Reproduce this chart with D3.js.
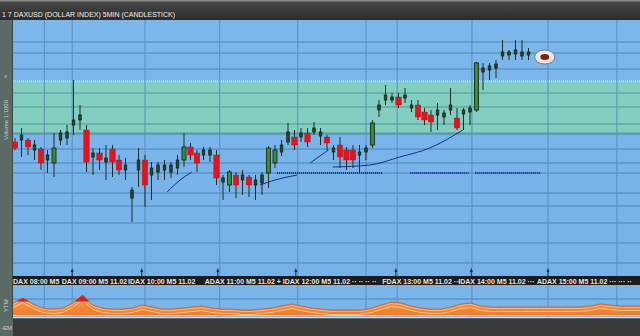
<!DOCTYPE html>
<html><head><meta charset="utf-8">
<script src="https://cdn.jsdelivr.net/npm/d3@7/dist/d3.min.js"></script>
<style>html,body{margin:0;padding:0;background:#2e2e2e;overflow:hidden}svg{display:block}</style>
</head><body><svg id="c" width="640" height="336"></svg>
<script>
// ---- data ----
const opens  = [158,160,160,150,151,140,137,160,162,175,180,170,143,147,138,151,140,130,102,130,140,125,128,130,128,132,140,153,147,145,145,145,118,115,125,120,123,115,117,127,137,148,158,163,163,167,168,164,163,148,155,150,150,145,148,155,190,200,200,203,202,192,195,188,185,185,183,190,182,186,188,190,228,230,232,244,245,246,244,245];
const highs  = [162,172,162,160,153,150,167,170,175,220,195,175,152,152,155,155,145,142,113,152,145,138,138,140,138,145,167,157,150,153,153,150,125,130,128,130,125,125,128,154,155,160,177,170,172,172,178,172,165,155,163,153,155,155,155,180,200,215,207,207,212,200,200,192,190,197,190,212,192,192,195,238,237,237,240,260,250,260,260,252];
const lows   = [150,143,145,140,130,127,123,155,155,165,170,128,125,130,120,123,125,120,78,113,93,100,120,120,122,125,133,140,128,140,138,115,100,108,102,105,103,100,105,112,132,144,155,150,158,153,165,155,150,140,132,130,132,128,140,152,183,195,197,192,197,188,180,175,168,170,175,185,170,170,175,188,210,220,222,240,240,240,240,240];
const closes = [152,165,153,155,137,145,152,167,168,180,185,138,147,140,142,138,130,135,110,140,115,132,135,135,135,140,153,145,137,150,150,122,122,128,115,125,115,120,125,152,150,155,168,155,167,158,172,168,157,152,143,140,140,148,152,177,195,205,203,195,205,195,183,180,178,190,187,195,172,190,192,237,232,234,236,248,248,250,248,248];

const gridLevels = [258,247,231,207,193,176,166,151,137,127,107,94,77,57,37];
const dottedLevel = 219;
const bandLevels = [167,219];
const gridTimes = [4.5,8.8,20,31.5,43.5,54,58.8,70.3,82,92.6];
const tickTimes = [8.8,19.5,31.2,43.2,58.6,70.2,82];
const labelTimes = [-0.3,7.2,17.4,29.2,41.2,56.5,68.2,80.3];
const labelTexts = ["DAX 08:00 M5","DAX 09:00 M5 11.02","IDAX 10:00 M5 11.02","ADAX 11:00 M5 11.02 +","IDAX 12:00 M5 11.02 \u00b7\u00b7 \u00b7\u00b7 \u00b7\u00b7 \u00b7\u00b7","FDAX 13:00 M5 11.02 \u00b7\u00b7\u00b7","IDAX 14:00 M5 11.02 \u00b7\u00b7\u00b7","ADAX 15:00 M5 11.02 \u00b7\u00b7\u00b7 \u00b7\u00b7\u00b7 \u00b7\u00b7"];
const maShort1 = [[23.4,108],[25.4,120],[27.2,128]];
const maShort2 = [[37.7,115],[40,120],[43.4,125]];
const maShort3 = [[45.4,137],[48.2,150]];
const maLong   = [[48.9,133],[54.6,135],[59.2,143],[63.8,152],[68.9,170]];
const dotted1  = [[40.3,127],[56.5,127]];
const dotted2a = [[60.8,127],[69.8,127]];
const dotted2b = [[70.8,127],[80.8,127]];
const marker   = [81.5,243];
const oscValues = [13,18,12,8,7,8,13,21,11,8,7,7,8,11,9,7,7,8,9,10,8,7,7,6,6,7,8,10,12,10,8,7,6,6,6,6,8,11,14,13,10,8,7,7,9,12,13,10,9,9,9,9,9,9,9,9,9,9,10,12,11,10,10,10];
const titleText = "1  7 DAXUSD (DOLLAR INDEX) 5MIN (CANDLESTICK)";

// ---- layout ----
const svg = d3.select("#c");
const W = 640, H = 336;
const L = 13, T = 20, B = 276;
const x = d3.scaleLinear().domain([0, 79]).range([15, 528.5]);
const y = d3.scaleLinear().domain([25, 280]).range([275, 20]);
const oy = d3.scaleLinear().domain([0, 25]).range([316, 291]);
const ox = d3.scaleLinear().domain([0, oscValues.length - 1]).range([L, W]);

const defs = svg.append("defs");
const hg = defs.append("linearGradient").attr("id","hdr").attr("x1",0).attr("x2",0).attr("y1",0).attr("y2",1);
hg.append("stop").attr("offset",0).attr("stop-color","#4a4a4a");
hg.append("stop").attr("offset",1).attr("stop-color","#2b2b2b");
const bg = defs.append("linearGradient").attr("id","blue").attr("x1",0).attr("x2",0).attr("y1",0).attr("y2",1);
bg.append("stop").attr("offset",0).attr("stop-color","#7cb7ec");
bg.append("stop").attr("offset",1).attr("stop-color","#76b1e8");
const og = defs.append("linearGradient").attr("id","osc").attr("x1",0).attr("x2",0).attr("y1",0).attr("y2",1);
og.append("stop").attr("offset",0).attr("stop-color","#f7a050");
og.append("stop").attr("offset",1).attr("stop-color","#f07a2a");
defs.append("clipPath").attr("id","peak").append("rect").attr("x",0).attr("y",0).attr("width",W).attr("height",oy(14.5));

// background
svg.append("rect").attr("width",W).attr("height",H).attr("fill","#323232");
svg.append("rect").attr("width",W).attr("height",T).attr("fill","url(#hdr)");
svg.append("rect").attr("width",W).attr("height",1.5).attr("fill","#8a8a8a");
// left panel
svg.append("rect").attr("x",0).attr("y",T).attr("width",L).attr("height",H-T).attr("fill","#5b6a64");
svg.append("line").attr("x1",12.5).attr("x2",12.5).attr("y1",T).attr("y2",318).attr("stroke","#3a4540");
// main plot
svg.append("rect").attr("x",L).attr("y",T).attr("width",W-L).attr("height",B-T).attr("fill","url(#blue)");
svg.append("rect").attr("x",L).attr("y",y(bandLevels[1])).attr("width",W-L).attr("height",y(bandLevels[0])-y(bandLevels[1])).attr("fill","#82cec0");
// lower panel
svg.append("rect").attr("x",L).attr("y",285).attr("width",W-L).attr("height",32).attr("fill","#7ab5ea");
svg.append("rect").attr("x",L).attr("y",317).attr("width",W-L).attr("height",1.5).attr("fill","#d8dde2");
svg.append("rect").attr("x",L).attr("y",318.5).attr("width",W-L).attr("height",H-318.5).attr("fill","#3a3a3a");

// horizontal gridlines
svg.append("g").selectAll("line").data(gridLevels).join("line")
  .attr("x1",L).attr("x2",W).attr("y1",d=>y(d)).attr("y2",d=>y(d))
  .attr("stroke",d=>(d>bandLevels[0]&&d<bandLevels[1])?"#4e9a92":"#4f84ba").attr("stroke-width",1);
svg.append("line").attr("x1",L).attr("x2",W).attr("y1",y(dottedLevel)).attr("y2",y(dottedLevel))
  .attr("stroke","#c8e2f2").attr("stroke-width",1.5).attr("stroke-dasharray","1,1");
svg.append("line").attr("x1",L).attr("x2",W).attr("y1",y(bandLevels[0])).attr("y2",y(bandLevels[0])).attr("stroke","#4e9a92");
svg.append("line").attr("x1",L).attr("x2",W).attr("y1",299).attr("y2",299).attr("stroke","#4f84ba");
// vertical gridlines
svg.append("g").selectAll("line").data(gridTimes).join("line")
  .attr("x1",d=>x(d)).attr("x2",d=>x(d)).attr("y1",T).attr("y2",B)
  .attr("stroke","#5a8ebf").attr("stroke-width",1);
svg.append("g").selectAll("line").data(gridTimes).join("line")
  .attr("x1",d=>x(d)).attr("x2",d=>x(d)).attr("y1",285).attr("y2",317)
  .attr("stroke","#5a8ebf").attr("stroke-width",1);

// axis band
svg.append("rect").attr("x",L).attr("y",276).attr("width",W-L).attr("height",9).attr("fill","#1c1c1a");
svg.append("g").selectAll("path").data(tickTimes).join("path")
  .attr("d",d=>`M${x(d)-1.5},${272}L${x(d)+1.5},${272}L${x(d)},${268}Z`).attr("fill","#1a2a3a");
svg.append("g").selectAll("line").data(tickTimes).join("line")
  .attr("x1",d=>x(d)).attr("x2",d=>x(d)).attr("y1",272).attr("y2",276).attr("stroke","#1a2a3a");
svg.append("g").selectAll("text").data(labelTimes).join("text")
  .attr("x",d=>x(d)).attr("y",283.5).text((d,i)=>labelTexts[i])
  .attr("font-family","Liberation Sans, Arial").attr("font-size",7).attr("font-weight","bold")
  .attr("fill","#e8e8e0");

// oscillator
const area = d3.area().x((d,i)=>ox(i)).y0(315).y1(d=>oy(d));
const line = d3.line().x((d,i)=>ox(i)).y(d=>oy(d));
svg.append("path").attr("d",area(oscValues)).attr("fill","url(#osc)");
[[0,"#e4561c"],[-1.5,"#fbc27c"],[-3,"#f28a3a"],[-4.5,"#fcd090"]].forEach(([off,col])=>{
  svg.append("path").attr("d",line(oscValues.map(v=>Math.max(1.5,v+off))))
    .attr("fill","none").attr("stroke",col).attr("stroke-width",0.9);
});
svg.append("path").attr("d",area(oscValues)).attr("fill","#d8201a").attr("clip-path","url(#peak)");
svg.append("line").attr("x1",L).attr("x2",W).attr("y1",315.5).attr("y2",315.5).attr("stroke","#c0d8ec").attr("stroke-width",1);

// moving averages
const ma = d3.line().x(d=>x(d[0])).y(d=>y(d[1])).curve(d3.curveMonotoneX);
[maShort1,maShort2,maShort3,maLong].forEach(s=>{
  svg.append("path").attr("d",ma(s)).attr("fill","none").attr("stroke","#1c2a8a").attr("stroke-width",1);
});
[dotted1,dotted2a,dotted2b].forEach(s=>{
  svg.append("path").attr("d",ma(s)).attr("fill","none").attr("stroke","#2430a0").attr("stroke-width",2).attr("stroke-dasharray","1.2,0.8");
});

// candles
const candles = opens.map((o,i)=>({i,o,h:highs[i],l:lows[i],c:closes[i]}));
const bw = d=>d.c<d.o?5.5:(d.c-d.o>12?4:2.5);
const g = svg.append("g");
g.selectAll("line").data(candles).join("line")
  .attr("x1",d=>x(d.i)).attr("x2",d=>x(d.i)).attr("y1",d=>y(d.h)).attr("y2",d=>y(d.l))
  .attr("stroke","#1e2e22").attr("stroke-width",1);
g.selectAll("rect").data(candles).join("rect")
  .attr("x",d=>x(d.i)-bw(d)/2).attr("width",bw)
  .attr("y",d=>y(Math.max(d.o,d.c)))
  .attr("height",d=>Math.max(1.5,Math.abs(y(d.o)-y(d.c))))
  .attr("fill",d=>d.c<d.o?"#e3141c":(d.c-d.o>12?"#3e8a3a":"#2a4a2c"))
  .attr("stroke",d=>d.c<d.o?"#b01018":"#0f1f10").attr("stroke-width",d=>d.c<d.o?0.4:0.8);

// marker
svg.append("ellipse").attr("cx",x(marker[0])).attr("cy",y(marker[1])).attr("rx",10).attr("ry",7)
  .attr("fill","#f0ebe6").attr("stroke","#6a6a6a").attr("stroke-width",0.8);
svg.append("ellipse").attr("cx",x(marker[0])).attr("cy",y(marker[1])).attr("rx",4.5).attr("ry",3)
  .attr("fill","#8a1a12");

// header title
svg.append("text").attr("x",2).attr("y",17).text(titleText)
  .attr("font-family","Liberation Sans, Arial").attr("font-size",7).attr("fill","#eef0f0");
// left panel texts
svg.append("text").attr("transform","translate(8,140) rotate(-90)").text("Volume 1:1000")
  .attr("font-family","Liberation Sans, Arial").attr("font-size",6).attr("fill","#c8d2cc");
svg.append("text").attr("x",4).attr("y",78).text("x").attr("font-family","Liberation Sans, Arial").attr("font-size",6).attr("fill","#c8d2cc");
svg.append("text").attr("transform","translate(8,312) rotate(-90)").text("YTM")
  .attr("font-family","Liberation Sans, Arial").attr("font-size",6).attr("fill","#c8d2cc");
svg.append("text").attr("x",1).attr("y",330).text("-EM").attr("font-family","Liberation Sans, Arial").attr("font-size",6).attr("fill","#d0d4d0");
</script></body></html>
